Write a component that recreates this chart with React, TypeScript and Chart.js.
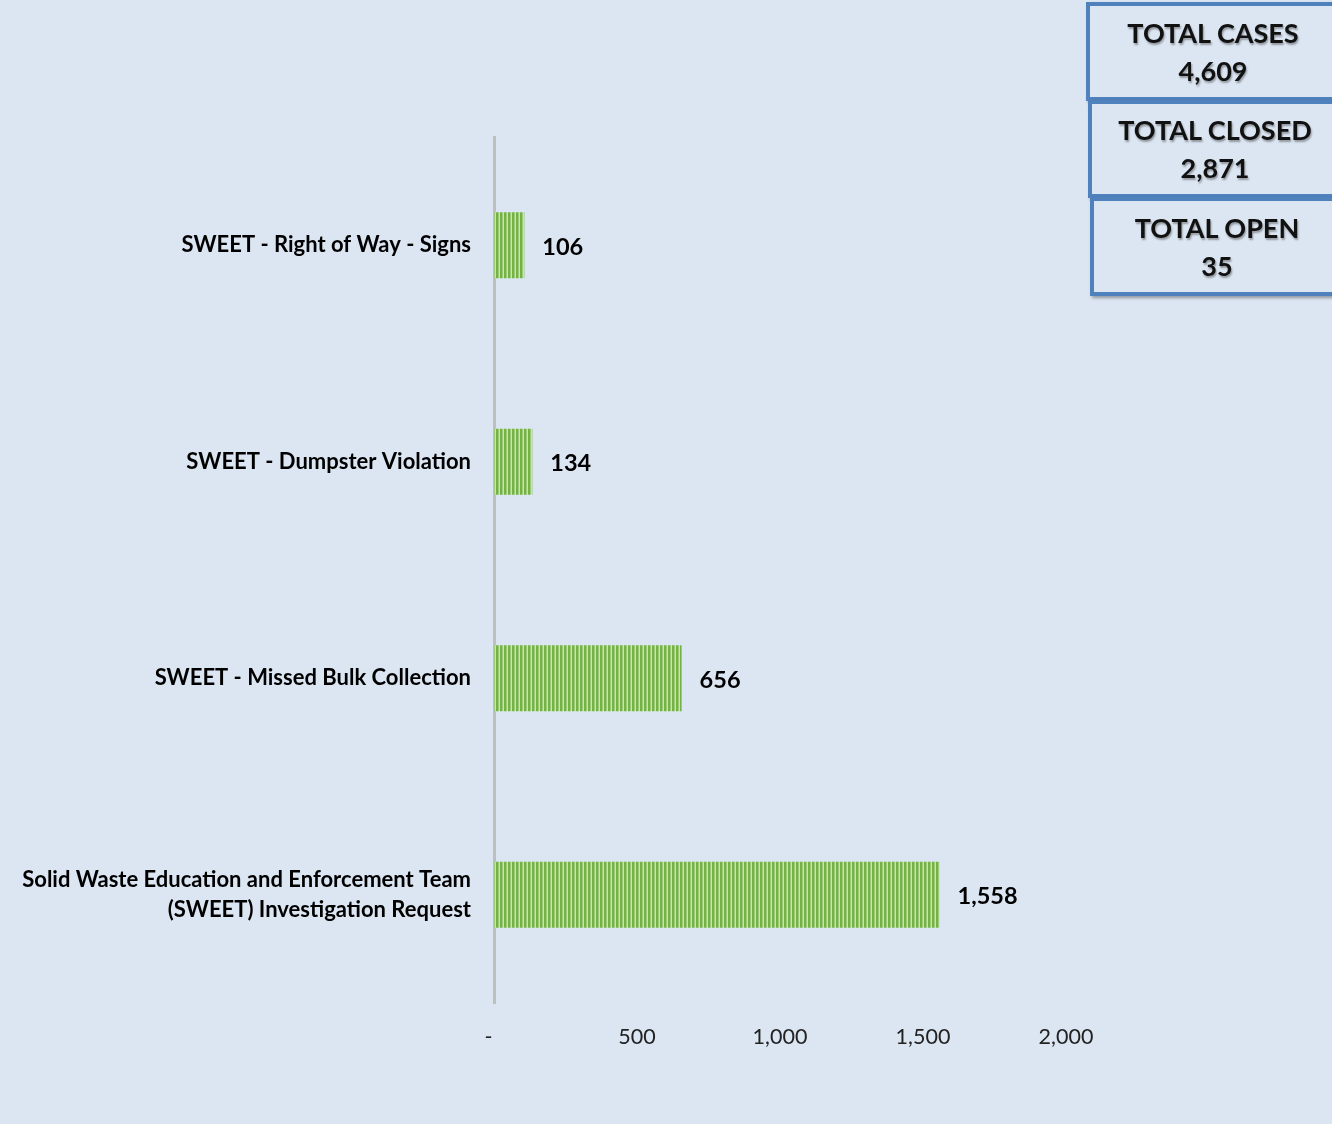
import React, { useEffect, useRef } from "react";
import { Chart, registerables } from "chart.js";

Chart.register(...registerables);

const categories: (string | string[])[] = [
  "SWEET - Right of Way - Signs",
  "SWEET - Dumpster Violation",
  "SWEET - Missed Bulk Collection",
  ["Solid Waste Education and Enforcement Team", "(SWEET) Investigation Request"],
];
const caseCounts = [106, 134, 656, 1558];
const xTicks = [0, 500, 1000, 1500, 2000];
const summaryLabels = ["TOTAL CASES", "TOTAL CLOSED", "TOTAL OPEN"];
const summaryValues = ["4,609", "2,871", "35"];

const FONT = "Lato, 'Open Sans', sans-serif";
const BG = "#dce6f2";

function makePattern(): CanvasPattern | string {
  const c = document.createElement("canvas");
  c.width = 4;
  c.height = 4;
  const ctx = c.getContext("2d");
  if (!ctx) return "#76b244";
  ctx.fillStyle = "#c9e2b6";
  ctx.fillRect(0, 0, 4, 4);
  ctx.fillStyle = "#74b243";
  ctx.fillRect(0, 0, 2.5, 4);
  const p = ctx.createPattern(c, "repeat");
  return p || "#76b244";
}

const valueLabels = {
  id: "valueLabels",
  afterDatasetsDraw(chart: any) {
    const ctx = chart.ctx;
    const meta = chart.getDatasetMeta(0);
    ctx.save();
    ctx.font = `bold 23.5px ${FONT}`;
    ctx.fillStyle = "#000";
    ctx.textAlign = "left";
    ctx.textBaseline = "middle";
    meta.data.forEach((bar: any, i: number) => {
      const v = chart.data.datasets[0].data[i] as number;
      ctx.fillText(v.toLocaleString("en-US"), bar.x + 18, bar.y + 2);
    });
    ctx.restore();
  },
};

export default function App() {
  const ref = useRef<HTMLCanvasElement>(null);
  useEffect(() => {
    if (!ref.current) return;
    const chart = new Chart(ref.current, {
      type: "bar",
      data: {
        labels: categories,
        datasets: [
          {
            data: caseCounts,
            backgroundColor: makePattern() as any,
            borderWidth: 0,
            categoryPercentage: 0.305,
            barPercentage: 1,
          },
        ],
      },
      options: {
        indexAxis: "y",
        animation: false,
        responsive: false,
        maintainAspectRatio: false,
        layout: { padding: { top: 137, right: 266, left: 0, bottom: 0 } },
        plugins: { legend: { display: false }, tooltip: { enabled: false } },
        scales: {
          x: {
            min: 0,
            max: 2000,
            afterBuildTicks: (axis: any) => {
              axis.ticks = xTicks.map((v) => ({ value: v }));
            },
            afterFit: (axis: any) => {
              axis.height = 121;
            },
            grid: { display: false, drawTicks: false },
            border: { display: false },
            ticks: {
              padding: 21,
              color: "#222",
              font: { family: FONT, size: 21.5 },
              callback: (v: any) => (Number(v) === 0 ? "-  " : Number(v).toLocaleString("en-US")),
            },
          },
          y: {
            afterFit: (axis: any) => {
              axis.width = 494;
            },
            grid: { display: false, drawTicks: false },
            border: { display: true, color: "#bfbfbf", width: 3 },
            ticks: {
              padding: 23,
              color: "#000",
              font: { family: FONT, size: 22, weight: "bold", lineHeight: 1.36 },
            },
          },
        },
      },
      plugins: [valueLabels],
    });
    return () => chart.destroy();
  }, []);

  const boxes = [
    { left: 1086, top: 2, height: 99 },
    { left: 1088, top: 100, height: 98 },
    { left: 1090, top: 197, height: 99 },
  ];

  return (
    <div style={{ position: "fixed", left: 0, top: 0, width: 1332, height: 1124, overflow: "hidden", background: BG }}>
      <canvas ref={ref} width={1332} height={1124} style={{ position: "absolute", left: 0, top: 0 }} />
      {boxes.map((b, i) => (
        <div
          key={i}
          style={{
            position: "absolute",
            left: b.left,
            top: b.top,
            width: 254,
            height: b.height,
            boxSizing: "border-box",
            border: "4px solid #4f81bd",
            background: BG,
            boxShadow: "2px 2px 3px rgba(0,0,0,0.35)",
            display: "flex",
            flexDirection: "column",
            alignItems: "center",
            justifyContent: "center",
            fontFamily: FONT,
            fontWeight: "bold",
            fontSize: 27,
            lineHeight: "38px",
            color: "#111",
            textShadow: "1px 2px 2px rgba(0,0,0,0.35)",
          }}
        >
          <div>{summaryLabels[i]}</div>
          <div>{summaryValues[i]}</div>
        </div>
      ))}
    </div>
  );
}
